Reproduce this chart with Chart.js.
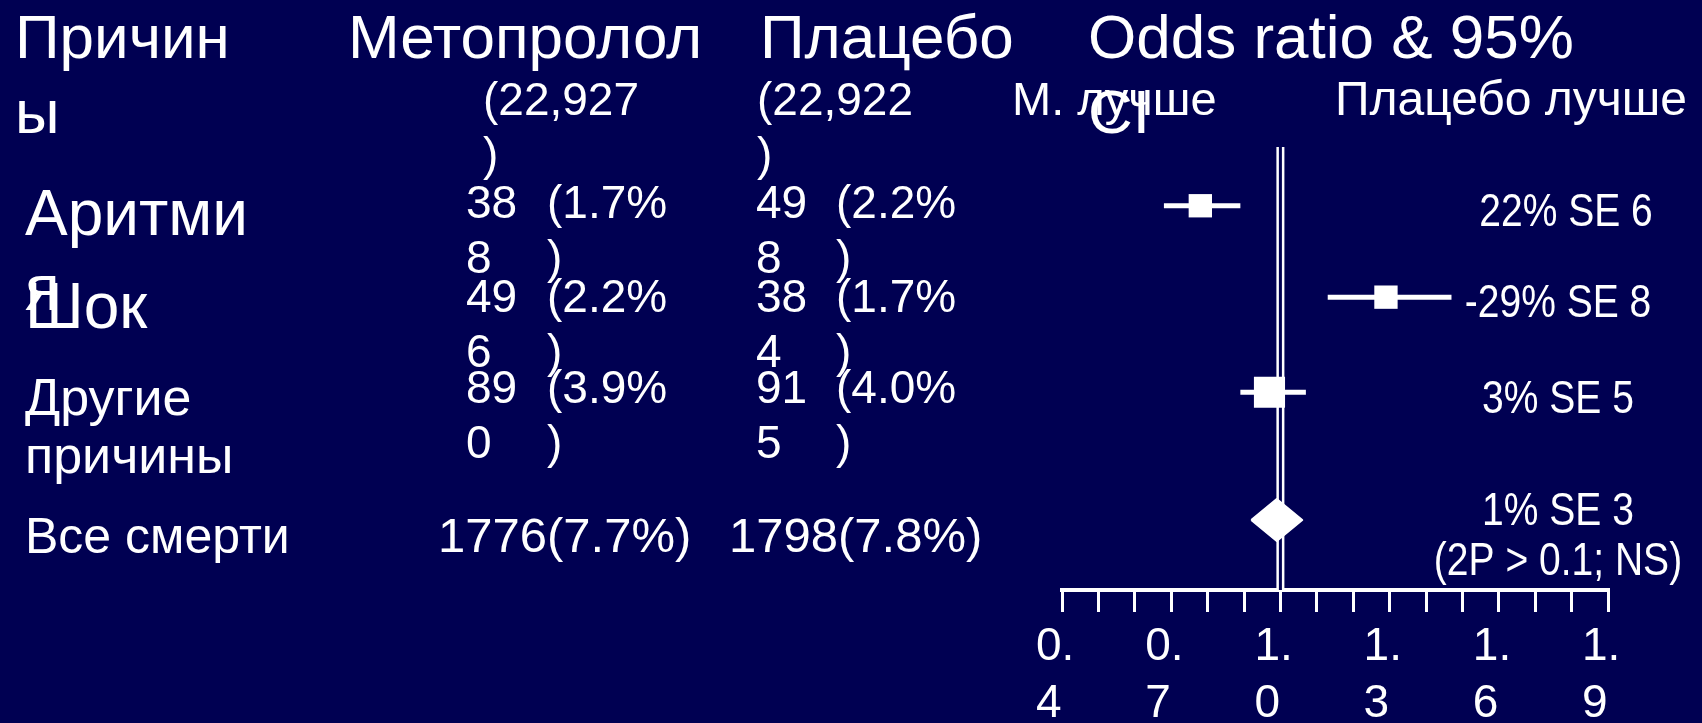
<!DOCTYPE html>
<html>
<head>
<meta charset="utf-8">
<script src="https://cdn.jsdelivr.net/npm/chart.js@4.4.1/dist/chart.umd.min.js"></script>
<style>
  html, body { margin: 0; padding: 0; background: #000052; overflow: hidden; }
  canvas { display: block; }
</style>
</head>
<body>
<canvas id="c" width="1702" height="723"></canvas>
<script>
// ---------------- data ----------------
const causes = ['Аритмия', 'Шок', 'Другие причины', 'Все смерти'];
const metoprololEvents = [388, 496, 890, 1776];
const metoprololPct = [1.7, 2.2, 3.9, 7.7];
const placeboEvents = [498, 384, 915, 1798];
const placeboPct = [2.2, 1.7, 4.0, 7.8];
const metoprololN = 22927;
const placeboN = 22922;
const oddsRatio = [0.78, 1.29, 0.97, 0.99];
const ciLow = [0.68, 1.13, 0.89, 0.92];
const ciHigh = [0.89, 1.47, 1.07, 1.06];
const reductionPct = [22, -29, 3, 1];
const reductionSE = [6, 8, 5, 3];
const summaryNote = '(2P > 0.1; NS)';
const tickLabels = ['0.4', '0.7', '1.0', '1.3', '1.6', '1.9'];
const headers = ['Причины', 'Метопролол', 'Плацебо', 'Odds ratio & 95% CI'];
const sideLabels = ['М. лучше', 'Плацебо лучше'];

// ---------------- layout / style ----------------
const NAVY = '#000052';
const WHITE = '#ffffff';
const FONT = "'Liberation Sans', Arial, sans-serif";
const rowPos = [1, 1.98, 3, 4.37];          // row slots on hidden y axis
const Y_MIN = 0.37, Y_MAX = 5.12;
const X_MIN = 0.4, X_MAX = 1.9;
const markerRadius = [16.5, 16.5, 22];
const diamondHalf = 0.225;

const measureCtx = document.createElement('canvas').getContext('2d');

function wrapText(ctx, text, maxW) {
  const words = String(text).split(' ');
  const lines = [];
  let line = '';
  for (const w of words) {
    const test = line ? line + ' ' + w : w;
    if (ctx.measureText(test).width <= maxW) { line = test; continue; }
    if (line) { lines.push(line); line = ''; }
    if (ctx.measureText(w).width <= maxW) { line = w; continue; }
    let chunk = '';
    for (const ch of w) {
      if (!chunk || ctx.measureText(chunk + ch).width <= maxW) chunk += ch;
      else { lines.push(chunk); chunk = ch; }
    }
    line = chunk;
  }
  if (line) lines.push(line);
  return lines;
}

function drawBlock(ctx, text, x, baseline, size, lineH, boxW, opt) {
  opt = opt || {};
  ctx.save();
  ctx.font = size + 'px ' + FONT;
  ctx.fillStyle = WHITE;
  ctx.textBaseline = 'alphabetic';
  const sx = opt.condense || 1;
  const lines = Array.isArray(text) ? text : wrapText(ctx, text, boxW / sx);
  ctx.textAlign = opt.center ? 'center' : 'left';
  lines.forEach((ln, i) => {
    ctx.save();
    ctx.translate(x, baseline + i * lineH);
    ctx.scale(sx, 1);
    ctx.fillText(ln, 0, 0);
    ctx.restore();
  });
  ctx.restore();
}

const causeOff = [29, 30.5, 22.5, 33];
const causeSize = [64, 64, 52, 50];
const causeLH = [75, 75, 58, 58];
const causeW = [235, 235, 235, 300];
const dataOff = [12, 14.5, 10.5];
const rightOff = [20, 19.5, 20.5, 5];
const rightX = [1566, 1558, 1558, 1558];

const textPlugin = {
  id: 'forestText',
  beforeDraw(chart) {
    const ctx = chart.ctx;
    ctx.save();
    ctx.fillStyle = NAVY;
    ctx.fillRect(0, 0, chart.width, chart.height);
    ctx.restore();
  },
  afterDraw(chart) {
    const ctx = chart.ctx;
    const ys = chart.scales.y;
    // headers
    drawBlock(ctx, headers[0], 15, 58, 62, 75, 235);
    drawBlock(ctx, headers[1], 348, 58, 62, 75, 400);
    drawBlock(ctx, headers[2], 760, 58, 62, 75, 300);
    drawBlock(ctx, headers[3], 1088, 58, 62, 75, 520);
    drawBlock(ctx, '(' + metoprololN.toLocaleString('en-US') + ')', 483, 115, 46, 55, 163);
    drawBlock(ctx, '(' + placeboN.toLocaleString('en-US') + ')', 757, 115, 46, 55, 163);
    drawBlock(ctx, sideLabels[0], 1012, 115, 47, 55, 300);
    drawBlock(ctx, sideLabels[1], 1335, 115, 48, 55, 400);

    causes.forEach((c, i) => {
      const py = ys.getPixelForValue(rowPos[i]);
      drawBlock(ctx, c, 25, py + causeOff[i], causeSize[i], causeLH[i], causeW[i]);
      if (i < 3) {
        const b = py + dataOff[i];
        drawBlock(ctx, String(metoprololEvents[i]), 466, b, 46, 55, 62);
        drawBlock(ctx, '(' + metoprololPct[i].toFixed(1) + '%)', 547, b, 46, 55, 128);
        drawBlock(ctx, String(placeboEvents[i]), 756, b, 46, 55, 62);
        drawBlock(ctx, '(' + placeboPct[i].toFixed(1) + '%)', 836, b, 46, 55, 128);
        drawBlock(ctx, [reductionPct[i] + '% SE ' + reductionSE[i]], rightX[i], py + rightOff[i], 47, 50, 400,
          { center: true, condense: 0.83 });
      } else {
        const b = py + 32;
        drawBlock(ctx, metoprololEvents[i] + '(' + metoprololPct[i].toFixed(1) + '%)', 438, b, 49, 55, 300);
        drawBlock(ctx, placeboEvents[i] + '(' + placeboPct[i].toFixed(1) + '%)', 729, b, 49, 55, 300);
        drawBlock(ctx, [reductionPct[i] + '% SE ' + reductionSE[i], summaryNote], rightX[i], py + rightOff[i], 47, 50, 400,
          { center: true, condense: 0.83 });
      }
    });
  }
};

// ---------------- datasets ----------------
const datasets = [];
// reference line at OR = 1 (double line)
datasets.push({ data: [{ x: 1, y: Y_MIN }, { x: 1, y: Y_MAX }], showLine: true, borderColor: WHITE,
  borderWidth: 8, pointRadius: 0, order: 4 });
datasets.push({ data: [{ x: 1, y: Y_MIN }, { x: 1, y: Y_MAX }], showLine: true, borderColor: NAVY,
  borderWidth: 3, pointRadius: 0, order: 3 });
// confidence intervals
for (let i = 0; i < 3; i++) {
  datasets.push({ data: [{ x: ciLow[i], y: rowPos[i] }, { x: ciHigh[i], y: rowPos[i] }], showLine: true,
    borderColor: WHITE, borderWidth: 5, borderCapStyle: 'butt', pointRadius: 0, order: 2 });
}
// squares
datasets.push({
  data: [0, 1, 2].map(i => ({ x: oddsRatio[i], y: rowPos[i] })),
  pointStyle: 'rect', pointRadius: markerRadius, backgroundColor: WHITE, borderWidth: 0, order: 1
});
// summary diamond
const s = 3;
datasets.push({
  data: [
    { x: ciLow[s], y: rowPos[s] },
    { x: oddsRatio[s], y: rowPos[s] - diamondHalf },
    { x: ciHigh[s], y: rowPos[s] },
    { x: oddsRatio[s], y: rowPos[s] + diamondHalf },
    { x: ciLow[s], y: rowPos[s] }
  ],
  showLine: true, fill: 'shape', backgroundColor: WHITE, borderColor: WHITE, borderWidth: 2,
  borderJoinStyle: 'round', pointRadius: 0, tension: 0, order: 0
});

new Chart(document.getElementById('c'), {
  type: 'scatter',
  data: { datasets },
  options: {
    responsive: false,
    animation: false,
    events: [],
    layout: { autoPadding: false, padding: { left: 1062, right: 94, top: 147, bottom: 0 } },
    plugins: { legend: { display: false }, tooltip: { enabled: false } },
    scales: {
      x: {
        type: 'linear', position: 'bottom', min: X_MIN, max: X_MAX,
        border: { display: true, color: WHITE, width: 4 },
        grid: { display: true, drawOnChartArea: false, drawTicks: true, tickLength: 22, color: WHITE, lineWidth: 3 },
        ticks: {
          stepSize: 0.1, autoSkip: false, maxRotation: 0, minRotation: 0,
          align: 'start', labelOffset: -26, padding: 6.5, color: WHITE,
          font: { family: FONT, size: 46, lineHeight: 57 / 46 },
          callback(v) {
            const str = Number(v).toFixed(1);
            if (!tickLabels.includes(str)) return '';
            measureCtx.font = '46px ' + FONT;
            return wrapText(measureCtx, str, 45);
          }
        },
        afterFit(scale) { scale.paddingLeft = 0; scale.paddingRight = 0; scale.height = 133; }
      },
      y: { type: 'linear', display: false, reverse: true, min: Y_MIN, max: Y_MAX }
    }
  },
  plugins: [textPlugin]
});
</script>
</body>
</html>
